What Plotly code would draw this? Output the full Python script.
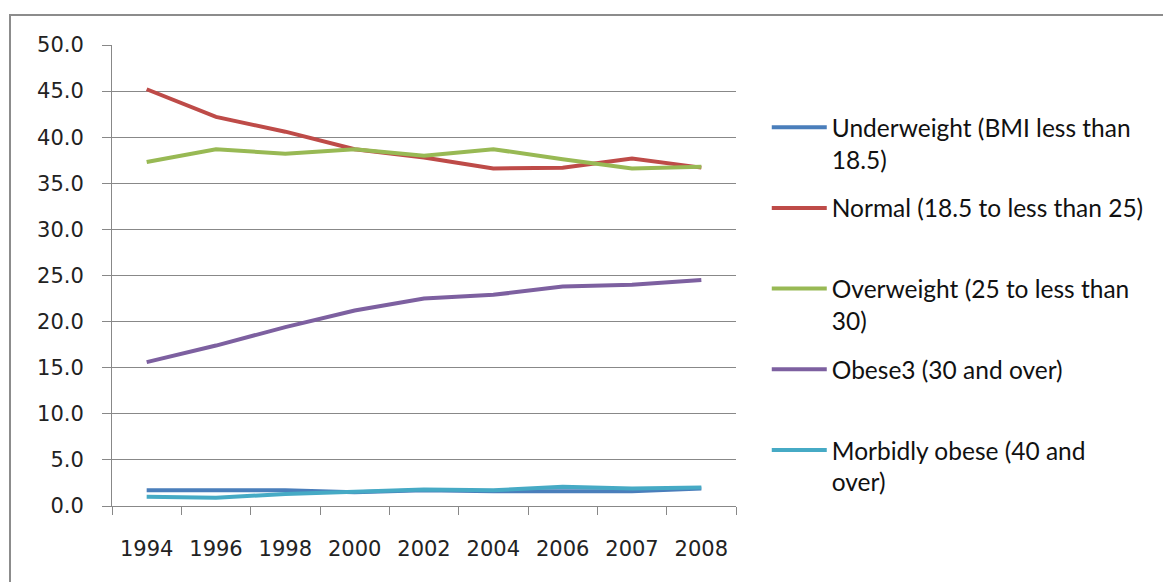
import plotly.graph_objects as go

# Survey years (category axis) and percentage of adults in each BMI class
years = ["1994", "1996", "1998", "2000", "2002", "2004", "2006", "2007", "2008"]
underweight = [1.7, 1.7, 1.7, 1.5, 1.7, 1.6, 1.6, 1.6, 1.9]
normal = [45.2, 42.2, 40.6, 38.7, 37.8, 36.6, 36.7, 37.7, 36.7]
overweight = [37.3, 38.7, 38.2, 38.7, 38.0, 38.7, 37.6, 36.6, 36.8]
obese = [15.6, 17.4, 19.4, 21.2, 22.5, 22.9, 23.8, 24.0, 24.5]
morbidly_obese = [1.0, 0.9, 1.3, 1.5, 1.8, 1.7, 2.1, 1.9, 2.0]

series_names = [
    "Underweight (BMI less than<br>18.5)",
    "Normal (18.5 to less than 25)<br> ",
    "Overweight (25 to less than<br>30)",
    "Obese3 (30 and over)<br> ",
    "Morbidly obese (40 and<br>over)",
]
series_values = [underweight, normal, overweight, obese, morbidly_obese]
series_colors = ["#4A7EBB", "#BE4B48", "#98B954", "#7D60A0", "#46AAC5"]

fig = go.Figure()
for i, (name, vals, col) in enumerate(zip(series_names, series_values, series_colors)):
    fig.add_trace(go.Scatter(
        x=years, y=vals, name=name, mode="lines",
        line=dict(color=col, width=4),
        legendgroup=f"g{i}",
    ))

grid = "#888888"
tick_font = dict(family="DejaVu Sans", size=21, color="#222222")

fig.update_layout(
    width=1163, height=582,
    margin=dict(l=112, r=427, t=45, b=76),
    paper_bgcolor="white", plot_bgcolor="white",
    showlegend=True,
    legend=dict(
        xref="container", yref="container",
        x=0.6593, y=0.82, xanchor="left", yanchor="top",
        font=dict(family="Lato", size=24.5, color="#111111"),
        valign="top", itemwidth=55, tracegroupgap=14,
        maxheight=570,
        bgcolor="rgba(0,0,0,0)",
    ),
    xaxis=dict(
        type="category", range=[-0.5, len(years) - 0.5], showgrid=False,
        showline=True, linecolor=grid, linewidth=1,
        ticks="outside", tickson="boundaries", ticklen=8, tickcolor=grid,
        tickfont=tick_font, ticklabelstandoff=24,
    ),
    yaxis=dict(
        range=[0, 50], dtick=5, tickformat=".1f",
        showgrid=True, gridcolor=grid, gridwidth=1,
        showline=True, linecolor=grid, linewidth=1, zeroline=False,
        ticks="outside", ticklen=9, tickcolor=grid,
        tickfont=tick_font, ticklabelstandoff=14,
    ),
    shapes=[dict(
        type="rect", xref="paper", yref="paper",
        x0=(10 - 112) / 624, x1=1.8,
        y0=-0.3, y1=(506 - 15) / 461,
        line=dict(color="#8C8C8C", width=2),
        fillcolor="rgba(0,0,0,0)", layer="below",
    )],
)

fig.write_html("out.html")
